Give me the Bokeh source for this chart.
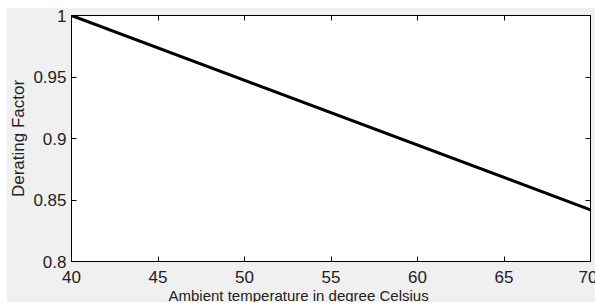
from bokeh.plotting import figure
from bokeh.models import LinearAxis, FixedTicker, Range1d, Title, Spacer
from bokeh.layouts import column, row
from bokeh.embed import file_html
from bokeh.resources import INLINE

# Data
temperature = [40, 70]
derating_factor = [1.0, 0.842]

x_ticks = [40, 45, 50, 55, 60, 65, 70]
x_tick_labels = ["40", "45", "50", "55", "60", "65", "70"]
y_ticks = [0.8, 0.85, 0.9, 0.95, 1.0]
y_tick_labels = ["0.8", "0.85", "0.9", "0.95", "1"]
x_title = "Ambient temperature in degree Celsius"
y_title = "Derating Factor"

FONT = "Liberation Sans"
TICK_FS = "17px"
TEXT_COLOR = "#222222"

p = figure(
    width=589, height=298,
    frame_width=519, frame_height=246,
    x_range=Range1d(40, 70), y_range=Range1d(0.8, 1.0),
    output_backend="svg", toolbar_location=None,
    min_border_left=63, min_border_right=7, min_border_top=8, min_border_bottom=0,
)
p.border_fill_color = "#f0f0f0"
p.background_fill_color = "white"
p.outline_line_color = "black"
p.outline_line_width = 1
p.xgrid.visible = False
p.ygrid.visible = False

p.line(temperature, derating_factor, line_color="black", line_width=3)

def style(ax, ticks, labels, show_labels=True):
    ax.ticker = FixedTicker(ticks=ticks)
    ax.major_label_overrides = {t: l for t, l in zip(ticks, labels)}
    ax.major_tick_in = 5
    ax.major_tick_out = 0
    ax.minor_tick_in = 0
    ax.minor_tick_out = 0
    ax.axis_line_color = "black"
    ax.major_tick_line_color = "black"
    ax.major_label_text_font = FONT
    ax.major_label_text_font_size = TICK_FS if show_labels else "0px"
    ax.major_label_text_color = TEXT_COLOR
    ax.axis_label_text_font = FONT
    ax.axis_label_text_font_size = "17px"
    ax.axis_label_text_font_style = "normal"
    ax.axis_label_text_color = TEXT_COLOR

xa = p.xaxis[0]
style(xa, x_ticks, x_tick_labels)
xa.major_label_standoff = 9

ya = p.yaxis[0]
style(ya, y_ticks, y_tick_labels)
ya.axis_label = y_title
ya.major_label_standoff = 5
ya.axis_label_standoff = 2

top = LinearAxis()
style(top, x_ticks, ["" for _ in x_ticks], show_labels=False)
top.major_label_standoff = 0
right = LinearAxis()
style(right, y_ticks, ["" for _ in y_ticks], show_labels=False)
right.major_label_standoff = 0
p.add_layout(top, "above")
p.add_layout(right, "right")

p.yaxis.axis_label_text_font_size = "17px"

xtitle = Title(
    text=x_title, align="left", offset=97, standoff=-2,
    text_font=FONT, text_font_size="15px", text_font_style="normal",
    text_color=TEXT_COLOR,
)
p.add_layout(xtitle, "below")

layout = column(
    Spacer(width=595, height=7),
    row(Spacer(width=6, height=298), p),
    spacing=0,
)

open("out.html", "w").write(file_html(layout, INLINE))
